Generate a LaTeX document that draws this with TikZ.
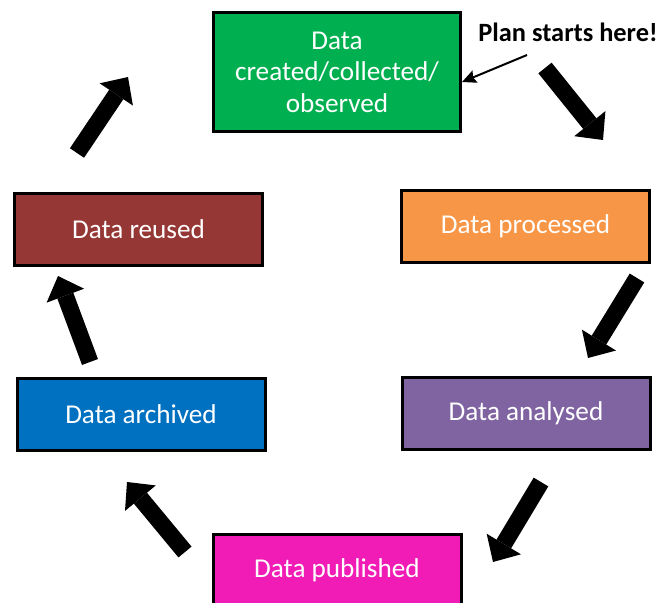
\documentclass[tikz,border=0pt]{standalone}
\usepackage{fontspec}
\setmainfont{Carlito}
\usetikzlibrary{arrows.meta,positioning}
\definecolor{createdgreen}{HTML}{00B050}
\definecolor{processedorange}{HTML}{F79646}
\definecolor{analysedpurple}{HTML}{8064A2}
\definecolor{publishedpink}{HTML}{F11CB6}
\definecolor{archivedblue}{HTML}{0070C0}
\definecolor{reusedbrown}{HTML}{953735}
\newcommand{\phasewidth}{248pt}
\tikzset{
    phase/.style = { draw, line width = 3pt, rectangle, align=center,
        text = white, inner sep = 0pt,
        font = \fontsize{27.2}{31.5}\selectfont,
        minimum width = \phasewidth,
        minimum height = 72pt
    },
    note/.style = { align=center,
        font = \fontsize{26.4}{31}\selectfont\bfseries
    },
    cycle_arrow/.style = { line width = 17pt,
        -{Triangle[length=21pt, width=40pt, line width=0pt]}
    },
    thin_arrow/.style = { line width = 2pt,
        -{Stealth[length=14pt, width=13pt, inset=2pt]}
    }
}
\begin{document}
\begin{tikzpicture}[x=1pt, y=-1pt]
        \useasboundingbox (0,0) rectangle (665,603);

        % phases...
        \node[phase, fill=createdgreen, minimum width=247pt, minimum height=119pt] (created) at (337,72)
            {Data\\ created/collected/\\ observed};
        \node[phase, fill=processedorange] (processed) at (525.5,226) {Data processed};
        \node[phase, fill=analysedpurple] (analysed) at (526,413.5) {Data analysed};
        \node[phase, fill=publishedpink] (published) at (337,570.5) {Data published};
        \node[phase, fill=archivedblue] (archived) at (141,414.5) {Data archived};
        \node[phase, fill=reusedbrown] (reused) at (138.5,229.5) {Data reused};

        % arrow ends...
        \coordinate (c1) at (545,68);  \coordinate (p1) at (603,140);
        \coordinate (c2) at (637,278); \coordinate (p2) at (588,358);
        \coordinate (c3) at (541,482); \coordinate (p3) at (493,562);
        \coordinate (c4) at (185,552); \coordinate (p4) at (127,482);
        \coordinate (c5) at (90,362);  \coordinate (p5) at (58,276);
        \coordinate (c6) at (77,153);  \coordinate (p6) at (128,77);

        \draw[cycle_arrow] (c1) -- (p1);
        \draw[cycle_arrow] (c2) -- (p2);
        \draw[cycle_arrow] (c3) -- (p3);
        \draw[cycle_arrow] (c4) -- (p4);
        \draw[cycle_arrow] (c5) -- (p5);
        \draw[cycle_arrow] (c6) -- (p6);

        % start note...
        \node[note] (plan) at (568,32) {Plan starts here!};
        \coordinate (s) at (527,55);
        \draw[thin_arrow] (s) -- (created.east |- 0,82);
\end{tikzpicture}
\end{document}
